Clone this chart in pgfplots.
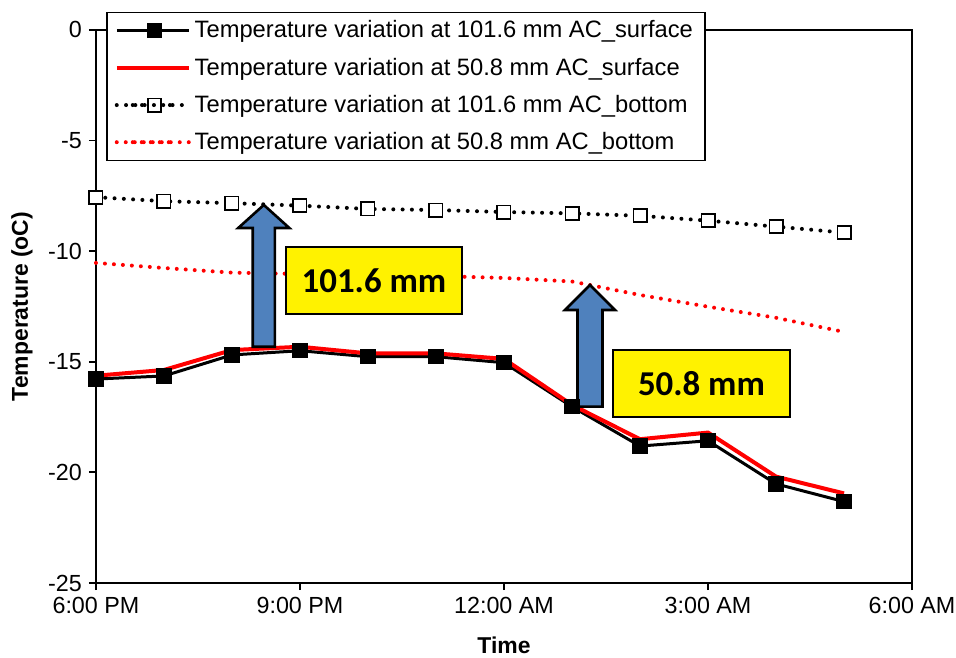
\documentclass[border=0pt]{standalone}
\usepackage{fontspec}
\setmainfont{Liberation Sans}
\newfontfamily\calib{Carlito}
\usepackage{pgfplots}
\pgfplotsset{compat=1.18}
\definecolor{arrowblue}{HTML}{4F81BD}

\begin{document}
\begin{tikzpicture}
\begin{axis}[
  scale only axis,
  width=408bp, height=276.5bp,
  xmin=0, xmax=12, ymin=-25, ymax=0,
  xtick={0,3,6,9,12},
  xticklabels={6:00 PM,9:00 PM,12:00 AM,3:00 AM,6:00 AM},
  ytick={-25,-20,-15,-10,-5,0},
  yticklabels={-25,-20,-15,-10,-5,0},
  tick align=outside, xtick pos=bottom, ytick pos=left,
  major tick length=3.5bp,
  every tick/.style={black, line width=0.9bp},
  axis line style={line width=1bp},
  ticklabel style={font=\fontsize{11.7}{14}\selectfont},
  xlabel={Time}, ylabel={Temperature (oC)},
  label style={font=\fontsize{11.5}{14}\selectfont\bfseries},
  xlabel style={at={(rel axis cs:0.5,-0.112)}, anchor=center},
  ylabel style={at={(rel axis cs:-0.0907,0.5)}, anchor=center},
  clip=false,
  legend cell align=left,
  legend style={at={(rel axis cs:0.0123,1.0326)}, anchor=north west,
    draw=black, line width=0.75bp, fill=white, row sep=4.5bp,
    inner ysep=2bp, inner xsep=4bp,
    font=\fontsize{11.9}{14}\selectfont},
  legend image code/.code={
    \draw[mark repeat=2, mark phase=2, #1] plot coordinates {(8bp,0bp) (19bp,0bp) (30bp,0bp)};
    \path (0bp,0bp) -- (36bp,0bp);
  },
]
% surface, 101.6 mm
\addplot[black, line width=1.5bp, mark=square*, mark size=3.1bp, mark options={solid}] coordinates {
  (0,-15.78) (1,-15.64) (2,-14.69) (3,-14.50) (4,-14.77) (5,-14.77)
  (6,-15.04) (7,-17.03) (8,-18.81) (9,-18.57) (10,-20.52) (11,-21.32)
};
% surface, 50.8 mm
\addplot[red, line width=2bp, no markers] coordinates {
  (0,-15.63) (1,-15.37) (2,-14.47) (3,-14.32) (4,-14.62) (5,-14.62)
  (6,-14.87) (7,-16.95) (8,-18.50) (9,-18.20) (10,-20.19) (11,-20.95)
};
% bottom, 101.6 mm
\addplot[black, line width=2bp, line cap=round, dash pattern=on 0bp off 4.65bp,
  mark=square*, mark size=3.3bp, mark options={solid, fill=white, line width=0.9bp}] coordinates {
  (0,-7.56) (1,-7.74) (2,-7.83) (3,-7.94) (4,-8.09) (5,-8.14)
  (6,-8.23) (7,-8.29) (8,-8.40) (9,-8.62) (10,-8.89) (11,-9.16)
};
% bottom, 50.8 mm
\addplot[red, line width=2bp, line cap=round, dash pattern=on 0bp off 4.5bp, no markers] coordinates {
  (0,-10.53) (1,-10.76) (2,-10.97) (3,-11.03) (4,-11.08) (5,-11.12)
  (6,-11.21) (7,-11.37) (8,-11.98) (9,-12.51) (10,-13.01) (11,-13.65)
};
\legend{Temperature variation at 101.6 mm AC\_surface,
        Temperature variation at 50.8 mm AC\_surface,
        Temperature variation at 101.6 mm AC\_bottom,
        Temperature variation at 50.8 mm AC\_bottom}

% annotations
\draw[fill=arrowblue, line width=1.3bp, line join=miter]
  (axis cs:2.306,-14.32) -- (axis cs:2.306,-8.95) -- (axis cs:2.093,-8.95)
  -- (axis cs:2.468,-7.91) -- (axis cs:2.843,-8.95) -- (axis cs:2.630,-8.95)
  -- (axis cs:2.630,-14.32) -- cycle;
\draw[fill=arrowblue, line width=1.3bp, line join=miter]
  (axis cs:7.081,-17.03) -- (axis cs:7.081,-12.66) -- (axis cs:6.897,-12.66)
  -- (axis cs:7.265,-11.53) -- (axis cs:7.633,-12.66) -- (axis cs:7.449,-12.66)
  -- (axis cs:7.449,-17.03) -- cycle;
\node[draw, line width=1.2bp, fill=yellow, minimum width=88bp, minimum height=33.5bp,
  font=\calib\fontsize{17.5}{20}\selectfont\bfseries] at (axis cs:4.088,-11.32) {101.6 mm};
\node[draw, line width=1.2bp, fill=yellow, minimum width=88.5bp, minimum height=33.5bp,
  font=\calib\fontsize{17.5}{20}\selectfont\bfseries] at (axis cs:8.904,-15.97) {50.8 mm};

\coordinate (bbl) at (rel axis cs:-0.1176,-0.1338);
\coordinate (btr) at (rel axis cs:1.0539,1.0542);
\end{axis}
\pgfresetboundingbox
\useasboundingbox (bbl) rectangle (btr);
\end{tikzpicture}
\end{document}
